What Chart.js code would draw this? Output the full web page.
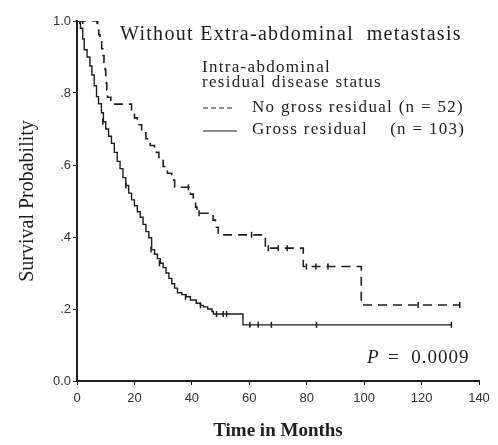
<!DOCTYPE html>
<html>
<head>
<meta charset="utf-8">
<script src="https://cdn.jsdelivr.net/npm/chart.js@4"></script>
<style>
  body { margin: 0; background: #fff; }
  #wrap { width: 498px; height: 445px; }
</style>
</head>
<body>
<div id="wrap"><canvas id="km-chart" width="498" height="445"></canvas></div>
<script>
// x-axis ticks (months) and y tick labels
const xTicks = [0, 20, 40, 60, 80, 100, 120, 140];
const yTickLabels = { 0: '0.0', 0.2: '.2', 0.4: '.4', 0.6: '.6', 0.8: '.8', 1: '1.0' };

// No gross residual (n = 52) - step points [month, survival]
const noGrossTimes = [0, 7.2, 7.6, 8.0, 8.6, 9.0, 9.4, 9.8, 10.0, 10.2, 10.4, 10.6, 11.8, 19, 20, 21, 22.5, 24, 25.5, 27, 28.5, 30, 31.5, 33, 34, 39.5, 40.5, 41.3, 41.8, 47.4, 48.2, 49.2, 65.6, 78.8, 99, 133.3];
const noGrossSurv = [1.0, 0.981, 0.962, 0.942, 0.923, 0.904, 0.885, 0.865, 0.846, 0.827, 0.808, 0.788, 0.769, 0.75, 0.731, 0.712, 0.692, 0.673, 0.654, 0.635, 0.615, 0.596, 0.577, 0.558, 0.538, 0.519, 0.5, 0.483, 0.466, 0.447, 0.427, 0.406, 0.369, 0.318, 0.211, 0.211];
const noGrossCensT = [1, 7, 38.8, 42.5, 60.8, 66.6, 70.1, 73.2, 79.9, 83.2, 87.4, 118.8, 133.3];
const noGrossCensS = [1.0, 1.0, 0.538, 0.466, 0.406, 0.369, 0.369, 0.369, 0.318, 0.318, 0.318, 0.211, 0.211];

// Gross residual (n = 103)
const grossTimes = [0, 1.2, 2, 2.5, 3.5, 4.5, 5.2, 6, 6.8, 7.5, 8.5, 9.2, 10, 11, 12, 13, 14, 15, 16, 17, 18, 19, 20, 21, 22, 23, 24, 25, 26, 27, 28, 29, 30, 31, 32, 33, 34, 35, 36.5, 38, 39.5, 41.5, 43, 44, 45.5, 47, 47.5, 57.8, 130.5];
const grossSurv = [1.0, 0.98, 0.95, 0.92, 0.9, 0.875, 0.85, 0.82, 0.79, 0.77, 0.745, 0.72, 0.7, 0.68, 0.66, 0.635, 0.61, 0.59, 0.565, 0.543, 0.522, 0.503, 0.487, 0.47, 0.455, 0.435, 0.415, 0.398, 0.365, 0.352, 0.34, 0.327, 0.315, 0.3, 0.285, 0.27, 0.258, 0.245, 0.24, 0.234, 0.225, 0.216, 0.21, 0.206, 0.2, 0.193, 0.186, 0.156, 0.156];
const grossCensT = [1, 2, 9, 17, 25.8, 28.7, 37.8, 43, 48.6, 50.9, 52.1, 60.2, 63.1, 67.7, 83.4, 130.4];
const grossCensS = [1.0, 1.0, 0.72, 0.543, 0.365, 0.327, 0.234, 0.21, 0.186, 0.186, 0.186, 0.156, 0.156, 0.156, 0.156, 0.156];

function pts(xs, ys) {
    return xs.map((x, i) => ({ x: x, y: ys[i] }));
}

const ink = '#1e1e1e';
const serif = '"Liberation Serif", "DejaVu Serif", serif';
const sans = '"Liberation Sans", Arial, sans-serif';

// titles, legend and p-value drawn as text on the canvas
const annotations = {
    id: 'annotations',
    afterDraw(chart) {
        const ctx = chart.ctx;
        ctx.save();
        ctx.fillStyle = ink;
        ctx.strokeStyle = ink;
        ctx.textBaseline = 'alphabetic';
        ctx.textAlign = 'left';

        ctx.letterSpacing = '1.3px';
        ctx.font = '20px ' + serif;
        ctx.fillText('Without Extra-abdominal  metastasis', 120, 40);

        ctx.letterSpacing = '1.3px';
        ctx.font = '17px ' + serif;
        ctx.fillText('Intra-abdominal', 202, 72);
        ctx.fillText('residual disease status', 202, 87);
        ctx.fillText('No gross residual (n = 52)', 252, 112);
        ctx.fillText('Gross residual    (n = 103)', 252, 134);
        ctx.letterSpacing = '0px';

        ctx.lineWidth = 1.2;
        ctx.setLineDash([5, 3]);
        ctx.beginPath(); ctx.moveTo(203, 108); ctx.lineTo(234, 108); ctx.stroke();
        ctx.setLineDash([]);
        ctx.beginPath(); ctx.moveTo(203, 131); ctx.lineTo(237, 131); ctx.stroke();

        ctx.font = 'italic 19px ' + serif;
        ctx.fillText('P', 367, 363);
        ctx.letterSpacing = '1px';
        ctx.font = '19px ' + serif;
        ctx.fillText('=  0.0009', 388, 363);
        ctx.restore();
    }
};

new Chart(document.getElementById('km-chart').getContext('2d'), {
    type: 'line',
    data: {
        datasets: [
            {
                label: 'No gross residual (n = 52)',
                data: pts(noGrossTimes, noGrossSurv),
                stepped: 'before',
                borderColor: ink,
                borderWidth: 1.6,
                borderDash: [9, 6],
                pointRadius: 0,
                fill: false
            },
            {
                label: 'Gross residual (n = 103)',
                data: pts(grossTimes, grossSurv),
                stepped: 'before',
                borderColor: ink,
                borderWidth: 1.4,
                pointRadius: 0,
                fill: false
            },
            {
                label: 'censored no gross',
                data: pts(noGrossCensT, noGrossCensS),
                showLine: false,
                pointStyle: 'line',
                rotation: 90,
                pointRadius: 3,
                borderColor: ink,
                pointBorderWidth: 1.5
            },
            {
                label: 'censored gross',
                data: pts(grossCensT, grossCensS),
                showLine: false,
                pointStyle: 'line',
                rotation: 90,
                pointRadius: 3,
                borderColor: ink,
                pointBorderWidth: 1.5
            }
        ]
    },
    options: {
        responsive: false,
        animation: false,
        layout: { padding: { top: 21, right: 19, left: 0, bottom: 0 } },
        plugins: {
            legend: { display: false },
            tooltip: { enabled: false }
        },
        scales: {
            x: {
                type: 'linear',
                min: 0,
                max: 140,
                afterBuildTicks(axis) {
                    axis.ticks = xTicks.map(v => ({ value: v }));
                },
                afterFit(axis) { axis.height = 64; },
                grid: { drawOnChartArea: false, tickLength: 4, color: ink, lineWidth: 1 },
                border: { color: ink, width: 2 },
                ticks: {
                    color: '#333',
                    padding: 6,
                    maxRotation: 0,
                    font: { family: sans, size: 13 }
                },
                title: {
                    display: true,
                    text: 'Time in Months',
                    color: ink,
                    padding: { top: 0, bottom: 3 },
                    font: { family: serif, size: 19, weight: 'bold' }
                }
            },
            y: {
                type: 'linear',
                min: 0,
                max: 1,
                afterBuildTicks(axis) {
                    axis.ticks = [0, 0.2, 0.4, 0.6, 0.8, 1].map(v => ({ value: v }));
                },
                afterFit(axis) { axis.width = 77; },
                grid: { drawOnChartArea: false, tickLength: 4, color: ink, lineWidth: 1 },
                border: { color: ink, width: 2 },
                ticks: {
                    color: '#333',
                    padding: 2,
                    font: { family: sans, size: 13 },
                    callback: v => yTickLabels[Math.round(v * 10) / 10]
                },
                title: {
                    display: true,
                    text: 'Survival Probability',
                    color: ink,
                    padding: { top: 16, bottom: 6 },
                    font: { family: serif, size: 20 }
                }
            }
        }
    },
    plugins: [annotations]
});
</script>
</body>
</html>
